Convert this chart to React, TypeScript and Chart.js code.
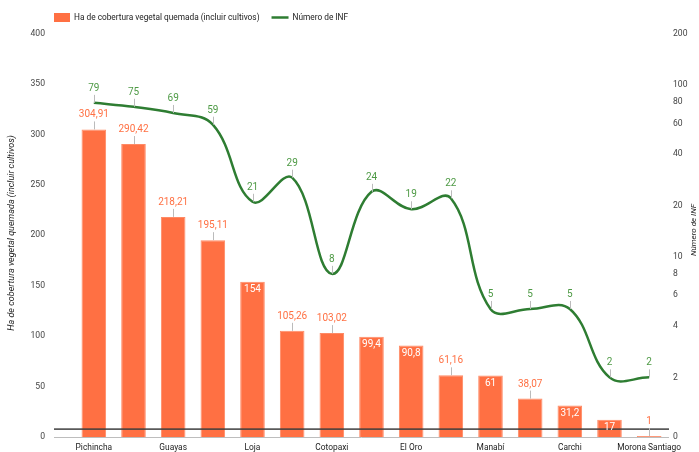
import React, { useEffect, useRef } from 'react';
import { Chart, registerables } from 'chart.js';

Chart.register(...registerables);

const categories = [
  'Pichincha', 'Azuay', 'Guayas', 'Imbabura', 'Loja', 'Chimborazo', 'Cotopaxi',
  'Santa Elena', 'El Oro', 'Tungurahua', 'Manabí', 'Bolívar', 'Carchi', 'Los Ríos', 'Morona Santiago',
];
const hectares = [304.91, 290.42, 218.21, 195.11, 154, 105.26, 103.02, 99.4, 90.8, 61.16, 61, 38.07, 31.2, 17, 1];
const infCount = [79, 75, 69, 59, 21, 29, 8, 24, 19, 22, 5, 5, 5, 2, 2];
const leftTicks = [0, 50, 100, 150, 200, 250, 300, 350, 400];
const rightTicks = [0, 2, 4, 6, 8, 10, 20, 40, 60, 80, 100, 200];

const barLabel = 'Ha de cobertura vegetal quemada (incluir cultivos)';
const lineLabel = 'Número de INF';

const ORANGE = '#FF7043';
const GREEN = '#2E7D32';
const GREEN_TEXT = '#4E9A45';
const FONT = 'Roboto';
const RIGHT_MIN = 0.9;

const fmt = (v: number) => String(v).replace('.', ',');

const overlay = {
  id: 'overlay',
  afterDatasetsDraw(chart: any) {
    const ctx = chart.ctx as CanvasRenderingContext2D;
    const area = chart.chartArea;
    const ys = chart.scales.y;
    const y2 = chart.scales.y2;
    ctx.save();
    // baselines
    const y0 = Math.round(ys.getPixelForValue(0)) + 0.5;
    ctx.strokeStyle = '#bdbdbd';
    ctx.lineWidth = 1;
    ctx.beginPath();
    ctx.moveTo(area.left - 20, y0);
    ctx.lineTo(area.right, y0);
    ctx.stroke();
    const y1 = y2.getPixelForValue(1);
    ctx.strokeStyle = 'rgba(60,60,60,0.85)';
    ctx.lineWidth = 1.6;
    ctx.beginPath();
    ctx.moveTo(area.left - 20, y1);
    ctx.lineTo(area.right, y1);
    ctx.stroke();

    ctx.font = `10px ${FONT}`;
    ctx.textAlign = 'center';
    ctx.textBaseline = 'middle';
    // bar labels
    const barMeta = chart.getDatasetMeta(0);
    barMeta.data.forEach((el: any, i: number) => {
      const text = fmt(hectares[i]);
      const tw = ctx.measureText(text).width;
      const h = el.base - el.y;
      if (tw + 3 <= el.width && h >= 16) {
        ctx.fillStyle = '#ffffff';
        ctx.fillText(text, el.x, el.y + 8);
      } else {
        ctx.strokeStyle = '#bbbbbb';
        ctx.lineWidth = 1;
        ctx.beginPath();
        ctx.moveTo(Math.round(el.x) + 0.5, el.y);
        ctx.lineTo(Math.round(el.x) + 0.5, el.y - 8);
        ctx.stroke();
        ctx.fillStyle = ORANGE;
        ctx.fillText(text, el.x, el.y - 14.5);
      }
    });
    // line labels
    const lineMeta = chart.getDatasetMeta(1);
    lineMeta.data.forEach((el: any, i: number) => {
      const text = String(infCount[i]);
      ctx.strokeStyle = '#bbbbbb';
      ctx.lineWidth = 1;
      ctx.beginPath();
      ctx.moveTo(Math.round(el.x) + 0.5, el.y);
      ctx.lineTo(Math.round(el.x) + 0.5, el.y - 8);
      ctx.stroke();
      ctx.fillStyle = GREEN_TEXT;
      ctx.fillText(text, el.x, el.y - 14.5);
    });
    ctx.restore();
  },
  afterDraw(chart: any) {
    const ctx = chart.ctx as CanvasRenderingContext2D;
    ctx.save();
    // legend
    ctx.font = `8.3px ${FONT}`;
    ctx.textBaseline = 'middle';
    ctx.textAlign = 'left';
    const ly = 17.5;
    ctx.fillStyle = ORANGE;
    ctx.fillRect(54, 13, 16, 9);
    ctx.fillStyle = '#222222';
    ctx.fillText(barLabel, 74, ly);
    const w1 = ctx.measureText(barLabel).width;
    const lx = 74 + w1 + 12;
    ctx.strokeStyle = GREEN;
    ctx.lineWidth = 2.5;
    ctx.beginPath();
    ctx.moveTo(lx, ly);
    ctx.lineTo(lx + 17, ly);
    ctx.stroke();
    ctx.fillStyle = '#222222';
    ctx.fillText(lineLabel, lx + 21, ly);
    // axis titles
    ctx.textAlign = 'center';
    ctx.fillStyle = '#222222';
    ctx.font = `italic 9px ${FONT}`;
    ctx.save();
    ctx.translate(12, 233);
    ctx.rotate(-Math.PI / 2);
    ctx.fillText(barLabel, 0, 0);
    ctx.restore();
    ctx.font = `italic 8px ${FONT}`;
    ctx.save();
    ctx.translate(694, 230);
    ctx.rotate(-Math.PI / 2);
    ctx.fillText(lineLabel, 0, 0);
    ctx.restore();
    ctx.restore();
  },
};

export default function App() {
  const ref = useRef<HTMLCanvasElement>(null);
  useEffect(() => {
    const chart = new Chart(ref.current!, {
      type: 'bar',
      data: {
        labels: categories,
        datasets: [
          {
            type: 'bar',
            label: barLabel,
            data: hectares,
            backgroundColor: ORANGE,
            borderColor: '#FF8A65',
            borderWidth: 1,
            barPercentage: 0.62,
            categoryPercentage: 1,
            yAxisID: 'y',
            order: 1,
          },
          {
            type: 'line',
            label: lineLabel,
            data: infCount,
            borderColor: GREEN,
            borderWidth: 2.5,
            pointRadius: 0,
            tension: 0.4,
            fill: false,
            yAxisID: 'y2',
            order: 0,
          } as any,
        ],
      },
      options: {
        animation: false,
        responsive: false,
        maintainAspectRatio: false,
        layout: { autoPadding: false, padding: { top: 33.5, left: 0, right: 0, bottom: 0 } },
        plugins: { legend: { display: false }, tooltip: { enabled: false } },
        scales: {
          x: {
            grid: { display: false, drawTicks: false },
            border: { display: false },
            ticks: {
              autoSkip: false,
              maxRotation: 0,
              minRotation: 0,
              padding: 6,
              color: '#222222',
              font: { family: FONT, size: 8.4 },
              callback: (_v: any, i: number) => (i % 2 === 0 ? categories[i] : ''),
            },
            afterFit: (s: any) => { s.height = 15; s.paddingLeft = 0; s.paddingRight = 0; },
          },
          y: {
            position: 'left',
            min: 0,
            max: 400,
            grid: { display: false, drawTicks: false },
            border: { display: false },
            afterBuildTicks: (s: any) => { s.ticks = leftTicks.map((v) => ({ value: v })); },
            ticks: {
              padding: 29,
              color: '#444444',
              font: { family: FONT, size: 8.6 },
            },
            afterFit: (s: any) => { s.width = 74; s.paddingTop = 0; s.paddingBottom = 0; },
          },
          y2: {
            type: 'logarithmic',
            position: 'right',
            min: RIGHT_MIN,
            max: 200,
            grid: { display: false, drawTicks: false },
            border: { display: false },
            afterBuildTicks: (s: any) => {
              s.ticks = rightTicks.map((v) => ({ value: v === 0 ? RIGHT_MIN : v }));
            },
            ticks: {
              padding: 4,
              color: '#444444',
              font: { family: FONT, size: 8.6 },
              callback: (_v: any, i: number) => String(rightTicks[i]),
            },
            afterFit: (s: any) => { s.width = 30; s.paddingTop = 0; s.paddingBottom = 0; },
          },
        },
      },
      plugins: [overlay],
    });
    return () => chart.destroy();
  }, []);
  return (
    <div style={{ position: 'fixed', left: 0, top: 0, width: 699, height: 452, background: '#fff' }}>
      <canvas ref={ref} width={699} height={452} style={{ width: 699, height: 452 }} />
    </div>
  );
}
